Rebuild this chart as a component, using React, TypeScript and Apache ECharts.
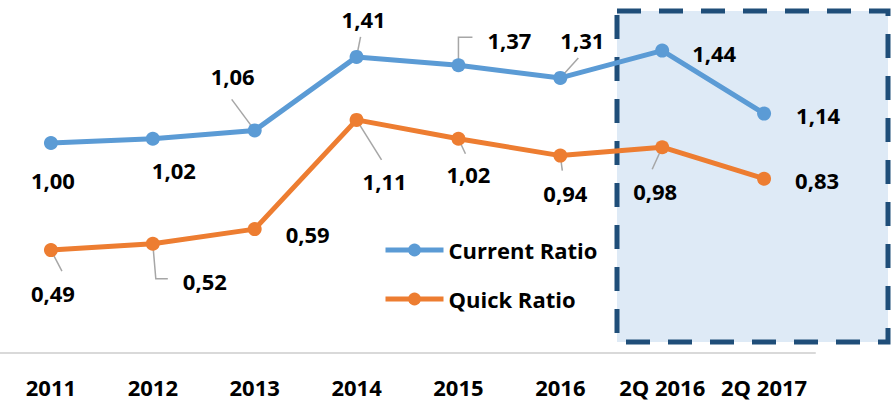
import React, { useEffect, useRef } from "react";
import * as echarts from "echarts";

const categories = ["2011", "2012", "2013", "2014", "2015", "2016", "2Q 2016", "2Q 2017"];
const currentRatio = [1.0, 1.02, 1.06, 1.41, 1.37, 1.31, 1.44, 1.14];
const quickRatio = [0.49, 0.52, 0.59, 1.11, 1.02, 0.94, 0.98, 0.83];
const seriesNames = ["Current Ratio", "Quick Ratio"];

// label offsets from each point (pixels) and leader-line bends
const currentLabelOffsets = [[2, 37], [21, 31], [-22, -54], [7, -38], [51, -25], [22, -38], [52, 2], [54, 1]];
const quickLabelOffsets = [[2, 43], [52, 37], [53, 5], [28, 61], [10, 35], [5, 37], [-7, 44], [53, 1]];
const currentLeaders: (number[][] | null)[] = [null, null, [[-23, -31]], [[4, -20]], [[0, -28], [14, -28]], [[18, -20]], null, null];
const quickLeaders: (number[][] | null)[] = [[[11, 21]], [[3, 35], [15, 35]], null, [[25, 40]], [[7, 15]], [[2, 15]], [[-10, 22]], null];

const FONT = "'Open Sans', sans-serif";
const fmt = (v: number) => v.toFixed(2).replace(".", ",");

function leaderSeries(name: string, values: number[], leaders: (number[][] | null)[]) {
  return {
    type: "custom",
    name,
    z: 1,
    silent: true,
    data: values.map((v, i) => [i, v]),
    renderItem: (params: any, api: any) => {
      const i = params.dataIndex;
      const p = api.coord([api.value(0), api.value(1)]);
      const l = leaders[i];
      if (!l) return { type: "group", children: [] };
      return {
        type: "polyline",
        shape: { points: [p, ...l.map((o) => [p[0] + o[0], p[1] + o[1]])] },
        style: { stroke: "#a6a6a6", lineWidth: 1.5, fill: null },
      };
    },
  };
}

function lineSeries(name: string, values: number[], color: string, offsets: number[][]) {
  return {
    type: "line",
    name,
    z: 3,
    data: values.map((v, i) => ({
      value: v,
      label: { offset: offsets[i] },
    })),
    symbol: "circle",
    symbolSize: 14,
    lineStyle: { color, width: 5 },
    itemStyle: { color },
    label: {
      show: true,
      position: "inside",
      align: "center",
      verticalAlign: "middle",
      formatter: (p: any) => fmt(p.value),
      color: "#000",
      fontFamily: FONT,
      fontWeight: "bold",
      fontSize: 22,
    },
  };
}

export default function App() {
  const ref = useRef<HTMLDivElement>(null);
  useEffect(() => {
    if (!ref.current) return;
    const chart = echarts.init(ref.current, undefined, { renderer: "svg" });
    chart.setOption({
      animation: false,
      backgroundColor: "#ffffff",
      grid: { left: -5, right: 80, top: 17, bottom: 49, containLabel: false },
      graphic: [
        {
          type: "rect",
          z: 0,
          shape: { x: 617, y: 11, width: 271, height: 331 },
          style: { fill: "#deeaf6", stroke: "#1f4e79", lineWidth: 5, lineDash: [24, 18] },
        },
      ],
      legend: {
        data: seriesNames,
        orient: "vertical",
        left: 378,
        top: 234,
        itemWidth: 58,
        itemHeight: 16,
        itemGap: 27,
        lineStyle: { width: 5 },
        textStyle: { fontFamily: FONT, fontWeight: "bold", fontSize: 22, color: "#000", lineHeight: 22 },
      },
      xAxis: {
        type: "category",
        data: categories,
        boundaryGap: true,
        axisLine: { lineStyle: { color: "#d9d9d9", width: 2 } },
        axisTick: { show: false },
        axisLabel: {
          interval: 0,
          margin: 23,
          color: "#000",
          fontFamily: FONT,
          fontWeight: "bold",
          fontSize: 22,
        },
      },
      yAxis: {
        type: "value",
        min: 0,
        max: 1.6,
        show: false,
        splitLine: { show: false },
      },
      series: [
        leaderSeries("leaderCurrent", currentRatio, currentLeaders),
        leaderSeries("leaderQuick", quickRatio, quickLeaders),
        lineSeries(seriesNames[0], currentRatio, "#5b9bd5", currentLabelOffsets),
        lineSeries(seriesNames[1], quickRatio, "#ed7d31", quickLabelOffsets),
      ],
    });
    return () => chart.dispose();
  }, []);
  return <div ref={ref} style={{ position: "fixed", left: 0, top: 0, width: 895, height: 402 }} />;
}
